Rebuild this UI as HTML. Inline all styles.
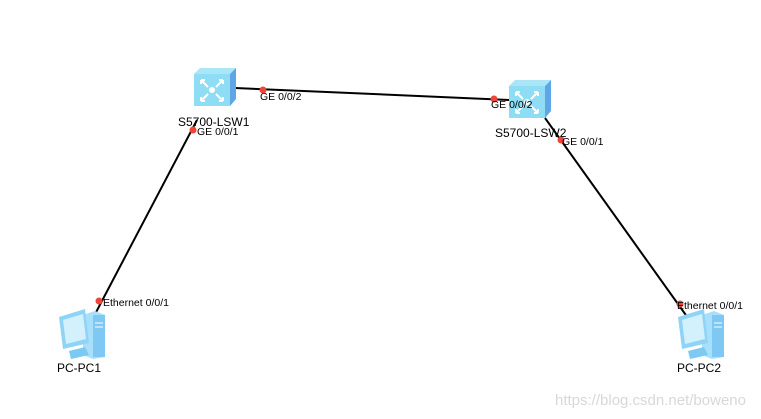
<!DOCTYPE html>
<html><head><meta charset="utf-8"><style>
html,body{margin:0;padding:0;background:#fff;}
svg{display:block;}
text{font-family:"Liberation Sans",sans-serif;}
</style></head><body>
<svg width="761" height="419" viewBox="0 0 761 419">
<defs>
<g id="sw">
  <polygon points="0,6 6,0 42,0 36,6" fill="#a9e6f8"/>
  <polygon points="36,6 42,0 42,31 36,38" fill="#5fa6e6"/>
  <rect x="0" y="6" width="36" height="32" fill="#8fdcf5"/>
  <g stroke="#fff" stroke-width="2" fill="none">
    <path d="M7,12 l7,7 M7,12 h4 M7,12 v4"/>
    <path d="M29,12 l-7,7 M29,12 h-4 M29,12 v4"/>
    <path d="M7,33 l7,-7 M7,33 h4 M7,33 v-4"/>
    <path d="M29,33 l-7,-7 M29,33 h-4 M29,33 v-4"/>
  </g>
  <circle cx="18" cy="22" r="3" fill="#fff"/>
</g>
<g id="pc">
  <polygon points="28,8 40,4 50,8 50,50 38,52 28,48" fill="#a8e0fb"/>
  <rect x="38" y="8" width="12" height="42" fill="#7fc8f4"/>
  <line x1="40" y1="16" x2="48" y2="16" stroke="#fff"/>
  <line x1="40" y1="20" x2="48" y2="20" stroke="#fff"/>
  <polygon points="4,10 30,2 34,36 8,42" fill="#8fd4f6"/>
  <polygon points="8,13 28,7 31,32 11,37" fill="#d2f1fd"/>
  <polygon points="14,44 30,40 34,48 16,52" fill="#7ccaf3"/>
</g>
</defs>

<line x1="235" y1="88" x2="510" y2="100" stroke="#000" stroke-width="2"/>
<line x1="197" y1="120" x2="93" y2="318" stroke="#000" stroke-width="2"/>
<line x1="545" y1="118" x2="688" y2="318" stroke="#000" stroke-width="2"/>

<use href="#sw" x="194" y="68"/>
<use href="#sw" x="509" y="80"/>
<use href="#pc" x="55" y="307"/>
<use href="#pc" x="674" y="307"/>

<circle cx="263" cy="90" r="3.5" fill="#f0443a"/>
<circle cx="494" cy="99" r="3.5" fill="#f0443a"/>
<circle cx="193" cy="130" r="3.5" fill="#f0443a"/>
<circle cx="561" cy="140" r="3.5" fill="#f0443a"/>
<circle cx="99" cy="301" r="3.5" fill="#f0443a"/>
<circle cx="680" cy="304" r="3.5" fill="#f0443a"/>

<g font-size="10.5" fill="#000">
<text x="260" y="100">GE 0/0/2</text>
<text x="491" y="108">GE 0/0/2</text>
<text x="197" y="135">GE 0/0/1</text>
<text x="562" y="145">GE 0/0/1</text>
<text x="103" y="306">Ethernet 0/0/1</text>
<text x="677" y="309">Ethernet 0/0/1</text>
</g>
<g font-size="12" fill="#000">
<text x="178" y="126">S5700-LSW1</text>
<text x="495" y="137">S5700-LSW2</text>
<text x="57" y="372">PC-PC1</text>
<text x="677" y="372">PC-PC2</text>
</g>
<text x="555" y="405" font-size="15" fill="#d8d8d8">https://blog.csdn.net/boweno</text>
</svg>
</body></html>
